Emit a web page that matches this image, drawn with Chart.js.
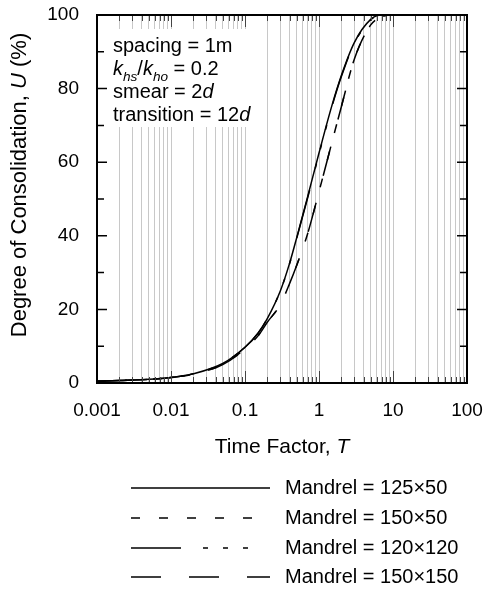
<!DOCTYPE html>
<html>
<head>
<meta charset="utf-8">
<script src="https://cdn.jsdelivr.net/npm/chart.js@4.4.1/dist/chart.umd.min.js"></script>
<style>
  html, body { margin: 0; padding: 0; background: #fff; }
</style>
</head>
<body>
<canvas id="myChart" width="484" height="590"></canvas>
<script>
// Nilai
var timeFactor = [0.001, 0.002, 0.005, 0.01, 0.02, 0.05, 0.1, 0.15, 0.2, 0.3, 0.4, 0.5, 0.7, 1, 1.5, 2, 3, 5, 7, 10, 100];
var mandrel125x50 = [0.5, 0.7, 1.0, 1.5, 2.5, 5.3, 9.7, 13.5, 17.5, 25, 32.5, 39.5, 50.5, 62.5, 75.5, 83.5, 92.5, 98.8, 100, 100, 100];
var mandrel150x50 = [0.5, 0.7, 1.0, 1.5, 2.4, 5.0, 9.3, 12.8, 16.5, 21.3, 27, 32, 40.5, 52, 65.5, 75, 88, 97.3, 99.5, 100, 100];
var mandrel120x120 = [0.5, 0.7, 1.0, 1.5, 2.5, 5.3, 9.7, 13.5, 17.5, 25, 32.4, 39.3, 50.2, 62.2, 75.2, 83.2, 92.3, 98.7, 100, 100, 100];
var mandrel150x150 = [0.5, 0.7, 1.0, 1.5, 2.4, 5.0, 9.3, 12.8, 16.5, 21.3, 27, 32, 40.5, 52, 65.5, 75, 88, 97.3, 99.5, 100, 100];

var seriesNames = ['Mandrel = 125×50', 'Mandrel = 150×50', 'Mandrel = 120×120', 'Mandrel = 150×150'];
var seriesDash = [[], [9, 19], [50, 22, 5, 15, 5, 15, 5, 22], [30, 28]];

var xTickLabels = [0.001, 0.01, 0.1, 1, 10, 100];
var yTickLabels = [0, 20, 40, 60, 80, 100];

// garis grid tiap 1..9 per dekade
var xGridValues = [];
for (var i = 0; i < xTickLabels.length - 1; i++) {
    for (var m = 1; m < 10; m++) {
        xGridValues.push(+(xTickLabels[i] * m).toPrecision(6));
    }
}
xGridValues.push(xTickLabels[xTickLabels.length - 1]);

function toPoints(ys) {
    return timeFactor.map(function(t, i) { return {x: t, y: ys[i]}; });
}

var FONT = '"Liberation Sans", Arial, sans-serif';

function isDecade(v) {
    var l = Math.log10(v);
    return Math.abs(l - Math.round(l)) < 1e-9;
}

// tulis teks dengan potongan miring / subscript
function drawRuns(ctx, x, y, runs, size) {
    runs.forEach(function(r) {
        var s = r.sub ? size * 0.68 : size;
        ctx.font = (r.italic ? 'italic ' : '') + s + 'px ' + FONT;
        ctx.fillText(r.t, x, y + (r.sub ? size * 0.28 : 0));
        x += ctx.measureText(r.t).width;
    });
}
function runsWidth(ctx, runs, size) {
    var w = 0;
    runs.forEach(function(r) {
        var s = r.sub ? size * 0.68 : size;
        ctx.font = (r.italic ? 'italic ' : '') + s + 'px ' + FONT;
        w += ctx.measureText(r.t).width;
    });
    return w;
}

var decorPlugin = {
    id: 'decor',
    beforeDatasetsDraw: function(chart) {
        var ctx = chart.ctx;
        var a = chart.chartArea;
        ctx.save();
        // kotak putih di belakang keterangan
        ctx.fillStyle = '#fff';
        ctx.fillRect(a.left + 2, 29, 160, 98);
        ctx.fillStyle = '#000';
        ctx.textBaseline = 'alphabetic';
        var size = 20;
        var x0 = 113;
        drawRuns(ctx, x0, 52, [{t: 'spacing = 1m'}], size);
        drawRuns(ctx, x0, 75, [
            {t: 'k', italic: true}, {t: 'hs', italic: true, sub: true}, {t: '/'},
            {t: 'k', italic: true}, {t: 'ho', italic: true, sub: true}, {t: ' = 0.2'}
        ], size);
        drawRuns(ctx, x0, 98, [{t: 'smear = 2'}, {t: 'd', italic: true}], size);
        drawRuns(ctx, x0, 121, [{t: 'transition = 12'}, {t: 'd', italic: true}], size);
        ctx.restore();
    },
    afterDraw: function(chart) {
        var ctx = chart.ctx;
        var a = chart.chartArea;
        var xs = chart.scales.x, ys = chart.scales.y;
        ctx.save();

        // tick ke dalam, atas dan bawah
        ctx.strokeStyle = '#444';
        ctx.lineWidth = 1;
        xs.ticks.forEach(function(t) {
            var px = Math.round(xs.getPixelForValue(t.value)) + 0.5;
            var len = isDecade(t.value) ? 12 : 6;
            ctx.beginPath();
            ctx.moveTo(px, a.bottom); ctx.lineTo(px, a.bottom - len);
            ctx.moveTo(px, a.top); ctx.lineTo(px, a.top + len);
            ctx.stroke();
        });
        // tick kiri dan kanan
        ctx.strokeStyle = '#000';
        ctx.lineWidth = 1.5;
        ys.ticks.forEach(function(t) {
            var py = ys.getPixelForValue(t.value);
            var len = yTickLabels.indexOf(t.value) >= 0 ? 10 : 7;
            ctx.beginPath();
            ctx.moveTo(a.left, py); ctx.lineTo(a.left + len, py);
            ctx.moveTo(a.right, py); ctx.lineTo(a.right - len, py);
            ctx.stroke();
        });
        // bingkai
        ctx.lineWidth = 2;
        ctx.strokeRect(a.left, a.top, a.right - a.left, a.bottom - a.top);

        // judul sumbu
        ctx.fillStyle = '#000';
        ctx.textBaseline = 'middle';
        var xt = [{t: 'Time Factor, '}, {t: 'T', italic: true}];
        var w = runsWidth(ctx, xt, 21);
        drawRuns(ctx, (a.left + a.right) / 2 - w / 2, 447, xt, 21);

        var yt = [{t: 'Degree of Consolidation, '}, {t: 'U', italic: true}, {t: ' (%)'}];
        ctx.translate(20, 185);
        ctx.rotate(-Math.PI / 2);
        w = runsWidth(ctx, yt, 22);
        drawRuns(ctx, -w / 2, 0, yt, 22);
        ctx.setTransform(1, 0, 0, 1, 0, 0);

        // legenda
        var rows = [488, 518, 548, 577];
        chart.data.datasets.forEach(function(ds, i) {
            ctx.strokeStyle = '#000';
            ctx.lineWidth = 1.5;
            ctx.setLineDash(ds.borderDash || []);
            ctx.beginPath();
            ctx.moveTo(131, rows[i]);
            ctx.lineTo(270, rows[i]);
            ctx.stroke();
            ctx.setLineDash([]);
            ctx.font = '20px ' + FONT;
            ctx.textBaseline = 'middle';
            ctx.fillText(ds.label, 285, rows[i]);
        });
        ctx.restore();
    }
};

var ctx = document.getElementById('myChart').getContext('2d');
var datasets = [mandrel125x50, mandrel150x50, mandrel120x120, mandrel150x150].map(function(vals, i) {
    return {
        label: seriesNames[i],
        data: toPoints(vals),
        borderColor: '#000',
        borderWidth: 1.5,
        borderDash: seriesDash[i],
        pointRadius: 0,
        fill: false,
        cubicInterpolationMode: 'monotone'
    };
});

window.myChart = new Chart(ctx, {
    type: 'line',
    data: { datasets: datasets },
    options: {
        responsive: false,
        animation: false,
        devicePixelRatio: 1,
        layout: { padding: { top: 15, right: 17, left: 0, bottom: 0 } },
        plugins: {
            legend: { display: false },
            tooltip: { enabled: false }
        },
        scales: {
            x: {
                type: 'logarithmic',
                min: 0.001,
                max: 100,
                afterBuildTicks: function(scale) {
                    scale.ticks = xGridValues.map(function(v) { return {value: v}; });
                },
                afterFit: function(scale) {
                    scale.height = 207;
                    scale.paddingLeft = 0;
                    scale.paddingRight = 0;
                },
                grid: { color: '#c8c8c8', lineWidth: 1, drawTicks: false },
                border: { display: false },
                ticks: {
                    autoSkip: false,
                    maxRotation: 0,
                    padding: 16,
                    color: '#000',
                    font: { family: FONT, size: 19 },
                    callback: function(v) {
                        if (!isDecade(v)) return '';
                        for (var k = 0; k < xTickLabels.length; k++) {
                            if (Math.abs(xTickLabels[k] - v) / xTickLabels[k] < 1e-6) return String(xTickLabels[k]);
                        }
                        return '';
                    }
                }
            },
            y: {
                min: 0,
                max: 100,
                afterFit: function(scale) {
                    scale.width = 97;
                    scale.paddingTop = 0;
                    scale.paddingBottom = 0;
                },
                grid: { display: false, drawTicks: false },
                border: { display: false },
                ticks: {
                    stepSize: 10,
                    padding: 18,
                    color: '#000',
                    font: { family: FONT, size: 19 },
                    callback: function(v) {
                        return yTickLabels.indexOf(v) >= 0 ? String(v) : '';
                    }
                }
            }
        }
    },
    plugins: [decorPlugin]
});
</script>
</body>
</html>
